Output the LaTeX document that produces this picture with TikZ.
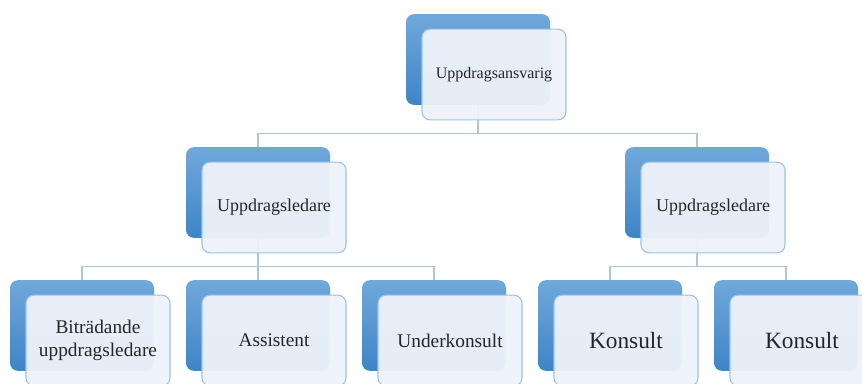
\documentclass[tikz,border=0pt]{standalone}
\usepackage{fontspec}
\setmainfont{Liberation Serif}
\usetikzlibrary{positioning, backgrounds}
\definecolor{backtop}{RGB}{112,168,218}
\definecolor{backbot}{RGB}{62,133,198}
\definecolor{frontfill}{RGB}{238,243,250}
\definecolor{frontline}{RGB}{158,194,228}
\definecolor{linkline}{RGB}{172,198,224}
\tikzset{
    backbox/.style={rectangle, rounded corners=6pt, minimum width=108pt, minimum height=68pt, top color=backtop, bottom color=backbot, draw=none},
    frontbox/.style={rectangle, rounded corners=6pt, minimum width=108pt, minimum height=68pt, align=center, draw=frontline, line width=0.8pt, fill=frontfill, fill opacity=0.95, text opacity=1, text=black!85},
    link/.style={draw=linkline, line width=0.8pt}
}

\begin{document}
\begin{tikzpicture}[x=0.75pt, y=-0.75pt]
    \clip (0,0) rectangle (862,383);

    \node (ansv) [backbox] at (478,59.5) {};
    \node (ansvF) [frontbox, font=\fontsize{12}{14}\selectfont] at ([shift={(16,15)}]ansv.center) {Uppdragsansvarig};

    \node (ledA) [backbox] at (258,192.5) {};
    \node (ledAF) [frontbox, font=\fontsize{13.5}{16}\selectfont] at ([shift={(16,15)}]ledA.center) {Uppdragsledare};
    \node (ledB) [backbox] at (697,192.5) {};
    \node (ledBF) [frontbox, font=\fontsize{13.5}{16}\selectfont] at ([shift={(16,15)}]ledB.center) {Uppdragsledare};

    \node (bitr) [backbox] at (82,325.5) {};
    \node (bitrF) [frontbox, font=\fontsize{14.5}{17}\selectfont] at ([shift={(16,15)}]bitr.center) {Biträdande\\uppdragsledare};
    \node (assi) [backbox] at (258,325.5) {};
    \node (assiF) [frontbox, font=\fontsize{14.5}{17}\selectfont] at ([shift={(16,15)}]assi.center) {Assistent};
    \node (unde) [backbox] at (434,325.5) {};
    \node (undeF) [frontbox, font=\fontsize{14.5}{17}\selectfont] at ([shift={(16,15)}]unde.center) {Underkonsult};
    \node (konA) [backbox] at (610,325.5) {};
    \node (konAF) [frontbox, font=\fontsize{17.5}{20}\selectfont] at ([shift={(16,15)}]konA.center) {Konsult};
    \node (konB) [backbox] at (786,325.5) {};
    \node (konBF) [frontbox, font=\fontsize{17.5}{20}\selectfont] at ([shift={(16,15)}]konB.center) {Konsult};

    \begin{scope}[on background layer]
        \fill[white] (0,0) rectangle (862,383);
        \draw [link] (ansv.south) -- ++(0,28) coordinate (ansvbus) -| (ledA.north);
        \draw [link] (ansvbus) -| (ledB.north);
        \draw [link] (ledA.south) -- ++(0,28) coordinate (ledAbus) -| (bitr.north);
        \draw [link] (ledAbus) -| (unde.north);
        \draw [link] (ledAbus) -- (assi.north);
        \draw [link] (ledB.south) -- ++(0,28) coordinate (ledBbus) -| (konA.north);
        \draw [link] (ledBbus) -| (konB.north);
    \end{scope}
\end{tikzpicture}
\end{document}
